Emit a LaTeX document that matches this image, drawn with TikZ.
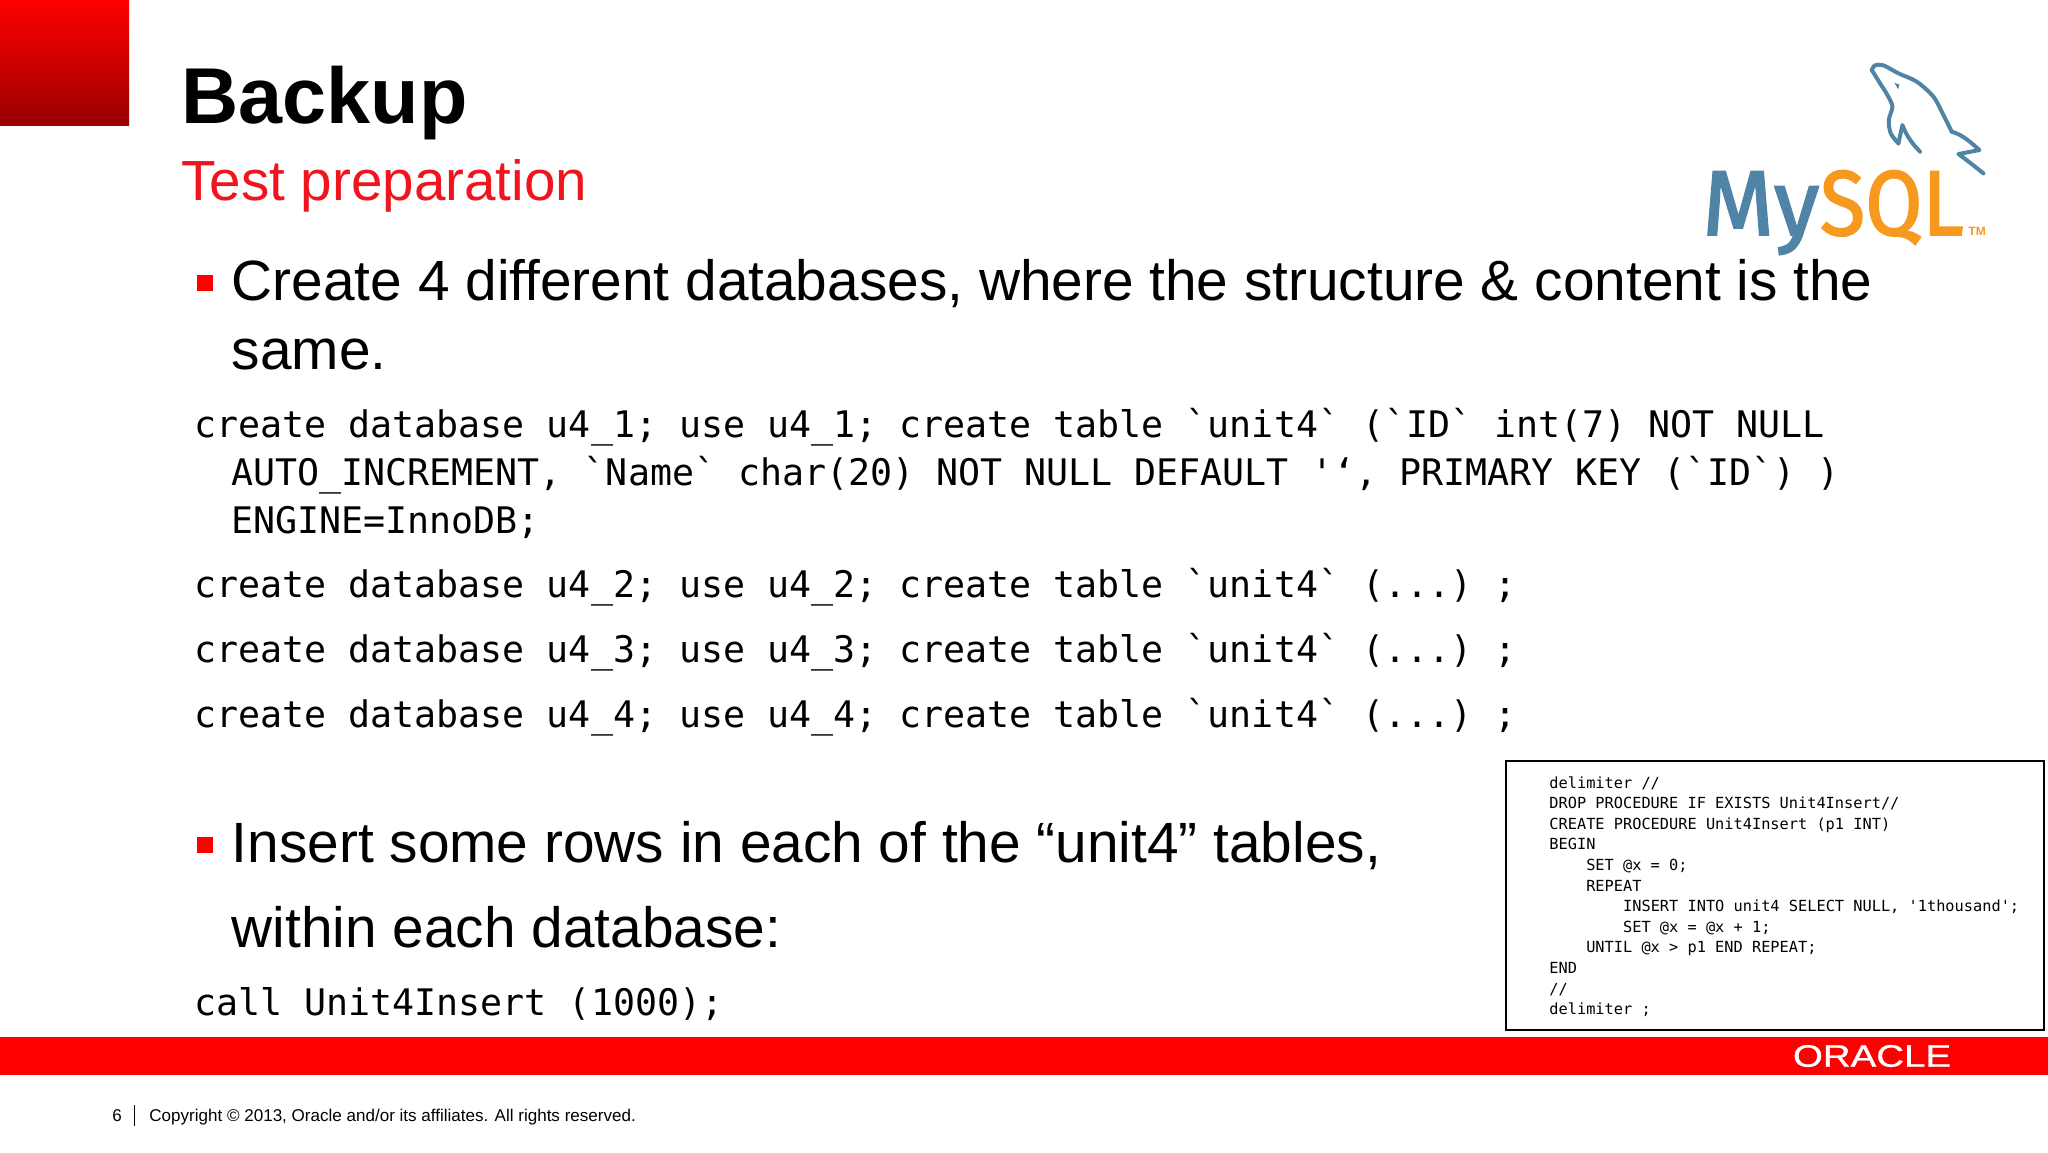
\documentclass[tikz,border=0pt]{standalone}
\usepackage{fontspec}
\setmainfont{Liberation Sans}
\setmonofont{DejaVu Sans Mono}
\newfontfamily\logofont[FakeBold=2]{Fira Sans}
\newfontfamily\oraclefont[FakeBold=0.8]{Liberation Sans}
\definecolor{barred}{HTML}{FF0000}
\definecolor{darkred}{HTML}{990000}
\definecolor{subred}{HTML}{F0141E}
\definecolor{sqlblue}{HTML}{4F84A6}
\definecolor{sqlorange}{HTML}{F7991F}
\tikzset{
  txt/.style={anchor=base west, inner sep=0pt},
  title/.style={txt, font=\fontsize{39.6}{48}\selectfont\bfseries},
  subtitle/.style={txt, text=subred, font=\fontsize{28.3}{33}\selectfont},
  body/.style={txt, font=\fontsize{28.4}{34}\selectfont},
  code/.style={txt, font=\fontsize{18.3}{24}\ttfamily},
  bullet/.style={fill=barred, inner sep=0pt, minimum size=8pt},
  foot/.style={txt, font=\fontsize{8.52}{11}\selectfont},
  dolphin/.style={draw=sqlblue, line width=2pt, line join=round, line cap=round}
}
\begin{document}
\begin{tikzpicture}[x=0.5pt,y=-0.5pt]
\useasboundingbox (0,0) rectangle (2048,1152);
\path[top color=barred, bottom color=darkred] (0,0) rectangle (129,125);
\node[title] (head) at (181,123) {Backup};
\node[subtitle] (sub) at (181,200) {Test preparation};
% first block
\node[bullet] (b1) at (205,283) {};
\node[body] (t1) at (231.5,300) {Create 4 different databases, where the structure \& content is the};
\node[body] (t2) at (231.5,369) {same.};
\node[code] (c1) at (194,437) {create database u4\_1; use u4\_1; create table `unit4` (`ID` int(7) NOT NULL};
\node[code] (c2) at (231,485) {AUTO\_INCREMENT, `Name` char(20) NOT NULL DEFAULT '‘, PRIMARY KEY (`ID`) )};
\node[code] (c3) at (231,533) {ENGINE=InnoDB;};
\foreach \i/\y in {2/597,3/662,4/727}
  \node[code] (db\i) at (194,\y) {create database u4\_\i; use u4\_\i; create table `unit4` (...) ;};
% second block
\node[bullet] (b2) at (205,845) {};
\node[body] (t3) at (231.5,862) {Insert some rows in each of the “unit4” tables,};
\node[body] (t4) at (231.5,947) {within each database:};
\node[code] (c4) at (194,1015) {call Unit4Insert (1000);};
% procedure box
\node[draw, line width=1.2pt, inner sep=0pt, minimum width=269pt, minimum height=134.5pt] (box) at (1775,895.5) {};
\node[anchor=north west, inner sep=0pt, align=left, font=\fontsize{7.65}{10.3}\ttfamily] (proc) at (1549,776) {%
delimiter //\\
DROP PROCEDURE IF EXISTS Unit4Insert//\\
CREATE PROCEDURE Unit4Insert (p1 INT)\\
BEGIN\\
\phantom{xxxx}SET @x = 0;\\
\phantom{xxxx}REPEAT\\
\phantom{xxxxxxxx}INSERT INTO unit4 SELECT NULL, '1thousand';\\
\phantom{xxxxxxxx}SET @x = @x + 1;\\
\phantom{xxxx}UNTIL @x > p1 END REPEAT;\\
END\\
//\\
delimiter ;};
% bottom bar
\path[fill=barred] (0,1037) rectangle (2048,1075);
\node[anchor=center, inner sep=0pt, text=white, font=\fontsize{15.5}{17}\oraclefont] (oracle) at (1872,1056) {\scalebox{1.24}[1]{ORACLE}};
\node[foot] (page) at (112,1121) {6};
\path[draw,line width=0.6pt] (134.5,1105) -- (134.5,1126);
\node[foot] (copy) at (149,1121) {Copyright © 2013, Oracle and/or its affiliates. All rights reserved.};
% logo
\node[txt, text=sqlblue, font=\fontsize{46}{50}\logofont] (my) at (1702,235) {My};
\node[txt, text=sqlorange, font=\fontsize{46}{50}\logofont] (sql) at (my.base east) {\scalebox{0.9}[1]{SQL}};
\node[txt, text=sqlorange, font=\fontsize{6}{7}\selectfont\bfseries] (tm) at (1968,235) {TM};
\begin{scope}[shift={(1650,40)},x=0.1667pt,y=-0.1667pt]
\path[dolphin] plot[smooth] coordinates {(665,90) (690,130) (712,165) (727,200) (716,240) (722,280) (745,310)};
\path[dolphin] (745,310) -- (757,255) .. controls (770,290) and (790,315) .. (810,335);
\path[dolphin] plot[smooth] coordinates {(665,90) (675,76) (700,76) (745,100) (800,125) (850,170) (880,225) (905,275)};
\path[dolphin] (905,275) .. controls (940,285) and (965,310) .. (988,330) -- (925,342) .. controls (950,360) and (975,380) .. (1000,400);
\path[fill=sqlblue] (733,128) -- (748,134) -- (744,148) -- cycle;
\end{scope}
\end{tikzpicture}
\end{document}
